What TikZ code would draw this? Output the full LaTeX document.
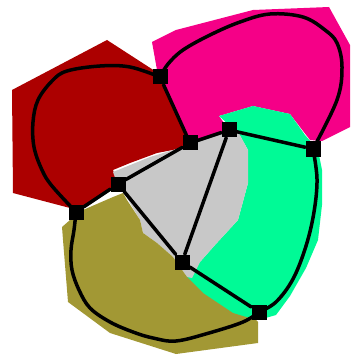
\documentclass[tikz,border=0pt]{standalone}
\usetikzlibrary{backgrounds}
\definecolor{cred}{RGB}{172,0,0}
\definecolor{cmag}{RGB}{245,0,135}
\definecolor{cgrn}{RGB}{0,250,150}
\definecolor{cgry}{RGB}{200,200,200}
\definecolor{coli}{RGB}{162,152,52}
\begin{document}
\begin{tikzpicture}[x=1pt,y=-1pt,
  vtx/.style={fill=black,draw=none,minimum size=15pt,inner sep=0pt},
  edge/.style={line width=3.5pt,black,line join=round,line cap=round},
  smoothline/.style={edge}]
\useasboundingbox (0,0) rectangle (352,358);
\node[vtx] (A) at (160,77) {};
\node[vtx] (B) at (190,143) {};
\node[vtx] (C) at (229,130) {};
\node[vtx] (D) at (313,149) {};
\node[vtx] (E) at (118,184) {};
\node[vtx] (F) at (76,212) {};
\node[vtx] (G) at (182,262) {};
\node[vtx] (H) at (259,312) {};
\begin{scope}[on background layer]
  % regions
  \fill[cmag] (152,42) -- (176,30) -- (253,10) -- (329,7) -- (350,45) -- (350,127)
    -- (322,141) -- (310,140) -- (290,114) -- (253,106) -- (219,116) -- (229,130)
    -- (190,145) -- (175,108) -- (162,80) -- (157,70) -- cycle;
  \fill[cred] (107,40) -- (158,73) -- (163,80) -- (175,108) -- (185,135) -- (190,145)
    -- (183,148) -- (157,153) -- (130,163) -- (113,170) -- (118,184) -- (76,212)
    -- (70,208) -- (13,193) -- (12,90) -- cycle;
  \fill[cgrn] (219,116) -- (253,106) -- (290,114) -- (305,135) -- (318,150)
    -- (322,170) -- (322,205) -- (318,240) -- (306,268) -- (290,296) -- (276,315)
    -- (262,319) -- (250,319) -- (230,313) -- (205,296) -- (188,283) -- (186,275)
    -- (200,262) -- (215,245) -- (238,220) -- (248,183) -- (248,150) -- (237,130)
    -- (228,124) -- cycle;
  \fill[cgry] (113,172) -- (150,157) -- (183,147) -- (192,141) -- (229,130)
    -- (237,130) -- (248,150) -- (248,183) -- (238,220) -- (215,245) -- (200,262)
    -- (192,278) -- (187,277) -- (173,257) -- (157,243) -- (143,233) -- (140,220)
    -- (127,198) -- (118,186) -- cycle;
  \fill[coli] (62,227) -- (70,220) -- (83,210) -- (113,197) -- (123,193) -- (127,200)
    -- (140,220) -- (143,233) -- (157,243) -- (173,257) -- (187,277) -- (203,293)
    -- (233,313) -- (256,320) -- (258,322) -- (258,343) -- (176,354) -- (110,333)
    -- (68,302) -- (63,240) -- cycle;
  % connectors
  \draw[edge] (A) -- (B);
  \draw[edge] (B) -- (C);
  \draw[edge] (C) -- (D);
  \draw[edge] (E) -- (B);
  \draw[edge] (E) -- (F);
  \draw[edge] (E) -- (G);
  \draw[edge] (C) -- (G);
  \draw[edge] (G) -- (H);
  \draw[smoothline] plot[smooth,tension=0.6] coordinates {(A.center) (168,64) (183,50)
    (210,35) (240,22) (270,14) (303,17) (325,30) (337,43) (342,67) (337,100) (D.center)};
  \draw[smoothline] plot[smooth,tension=0.6] coordinates {(A.center) (130,67) (100,66)
    (67,71) (52,81) (38,100) (33,122) (34,147) (42,170) (52,186) (F.center)};
  \draw[smoothline] plot[smooth,tension=0.6] coordinates {(F.center) (74,230) (71,250)
    (72,270) (79,290) (90,308) (110,322) (133,332) (153,338) (176,341) (209,333)
    (243,322) (H.center)};
  \draw[smoothline] plot[smooth,tension=0.6] coordinates {(D.center) (317,179)
    (314,212) (306,246) (293,279) (276,302) (H.center)};
\end{scope}
\end{tikzpicture}
\end{document}
